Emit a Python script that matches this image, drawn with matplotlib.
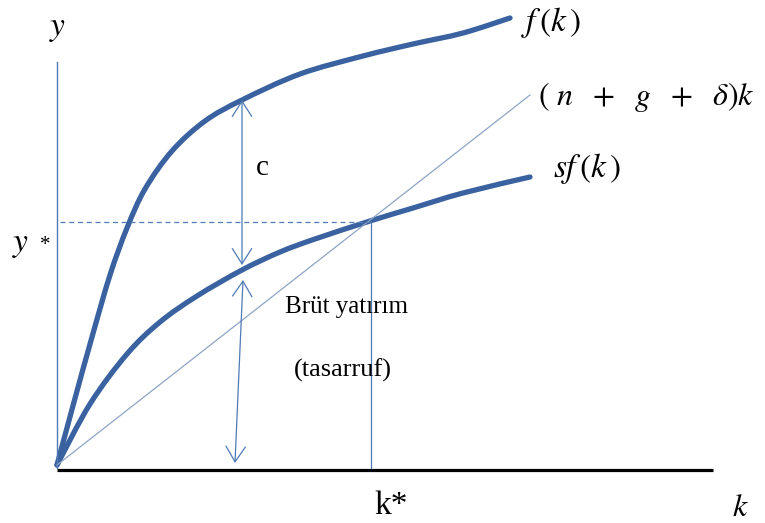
import matplotlib.pyplot as plt
from matplotlib.path import Path
from matplotlib.patches import PathPatch

plt.rcParams['mathtext.fontset'] = 'stix'

# curve points (picture coordinates, y grows downwards)
f_k = [57, 74, 92, 110, 127, 145, 172, 205, 242, 300, 363, 413, 463, 510]
f_y = [465, 402, 337, 275, 228, 189, 151, 121, 100, 74, 56, 44, 33, 18]

sf_k = [57, 90, 127, 160, 197, 242, 280, 315, 370, 413, 463, 530]
sf_y = [465, 404, 354, 322, 296, 270, 252, 239, 221, 208, 193, 177]

dep_k = [57, 530]
dep_y = [465, 95]

k_star = 371
y_star = 222
k0, y0 = 57, 468


def smooth_path(xs, ys):
    # catmull-rom through the points, drawn as cubic bezier segments
    pts = list(zip(xs, ys))
    verts = [pts[0]]
    codes = [Path.MOVETO]
    for i in range(len(pts) - 1):
        p0 = pts[i - 1] if i > 0 else pts[i]
        p1 = pts[i]
        p2 = pts[i + 1]
        p3 = pts[i + 2] if i + 2 < len(pts) else pts[i + 1]
        c1 = (p1[0] + (p2[0] - p0[0]) / 6, p1[1] + (p2[1] - p0[1]) / 6)
        c2 = (p2[0] - (p3[0] - p1[0]) / 6, p2[1] - (p3[1] - p1[1]) / 6)
        verts += [c1, c2, p2]
        codes += [Path.CURVE4] * 3
    return Path(verts, codes)


fig = plt.figure(figsize=(7.65, 5.23), dpi=100)
ax = fig.add_axes([0, 0, 1, 1])
ax.set_xlim(0, 765)
ax.set_ylim(523, 0)
ax.axis('off')

thick = '#3A62A0'
thin = '#4F7AB4'

# axes
ax.plot([k0, k0], [62, y0], color=thin, lw=1.0)
ax.plot([k0, 713], [y0 + 2, y0 + 2], color='black', lw=2.3, solid_capstyle='butt')

# curves
ax.plot(dep_k, dep_y, color='#8EA4C4', lw=0.9)
for xs, ys in [(f_k, f_y), (sf_k, sf_y)]:
    ax.add_patch(PathPatch(smooth_path(xs, ys), fill=False, edgecolor=thick,
                           lw=3.8, capstyle='round'))

# steady state guides
ax.plot([60, k_star], [y_star, y_star], color=thin, lw=0.9, ls=(0, (4, 3)))
ax.plot([k_star, k_star], [y_star, y0], color=thin, lw=0.9)

# arrows
arr = dict(arrowstyle='<->,head_length=1.1,head_width=0.7', color=thin, lw=0.9,
           shrinkA=0, shrinkB=0)
ax.annotate('', xy=(242, 100), xytext=(242, 265), arrowprops=arr)
ax.annotate('', xy=(243, 280), xytext=(235, 463), arrowprops=arr)

# labels
ax.text(58, 27, r'$y$', fontsize=24, ha='center', va='center')
ax.text(521, 22, r'$f\,(k\,)$', fontsize=24, ha='left', va='center')
ax.text(538, 97, r'$(\ n\ \ +\ \ g\ \ +\ \ \delta)k$', fontsize=23, ha='left', va='center')
ax.text(553, 168, r'$sf\,(k\,)$', fontsize=24, ha='left', va='center')
ax.text(262, 168, 'c', family='Liberation Serif', fontsize=21, ha='center', va='center')
ax.text(12, 243, r'$y$', fontsize=24, ha='left', va='center')
ax.text(40, 246, '*', family='Liberation Serif', fontsize=15, ha='left', va='center')
ax.text(347, 307, 'Brüt yatırım', family='Liberation Serif', fontsize=18, ha='center', va='center')
ax.text(343, 370, '(tasarruf)', family='Liberation Serif', fontsize=19, ha='center', va='center')
ax.text(391, 506, 'k*', family='Liberation Serif', fontsize=24, ha='center', va='center')
ax.text(740, 508, r'$k$', fontsize=23, ha='center', va='center')

plt.savefig('out.png', dpi=100)
plt.close()
